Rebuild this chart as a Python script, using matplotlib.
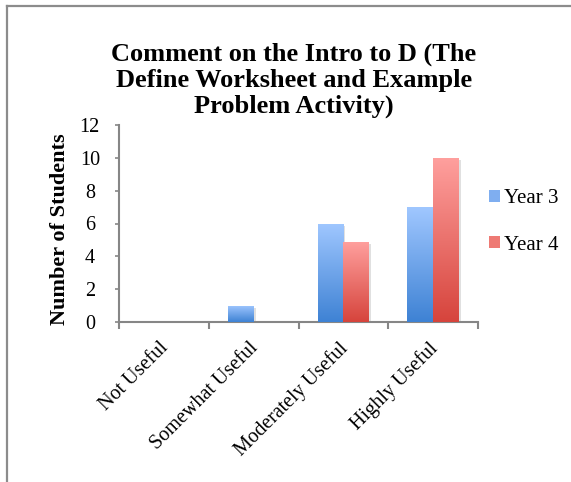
import numpy as np
import matplotlib
matplotlib.use("Agg")
import matplotlib.pyplot as plt
from matplotlib.colors import LinearSegmentedColormap
from matplotlib.patches import Rectangle
from matplotlib.lines import Line2D
from matplotlib.transforms import ScaledTranslation
import matplotlib.patheffects as pe

categories = ["Not Useful", "Somewhat Useful", "Moderately Useful", "Highly Useful"]
year3 = [0, 1, 6, 7]
year4 = [0, 0, 4.9, 10]
series_names = ["Year 3", "Year 4"]
title_lines = ["Comment on the Intro to D (The", "Define Worksheet and Example", "Problem Activity)"]
ylabel = "Number of Students"
yticks = [0, 2, 4, 6, 8, 10, 12]

plt.rcParams['font.family'] = ['Liberation Serif', 'DejaVu Serif']

W, H = 571, 482
fig = plt.figure(figsize=(W / 100, H / 100), dpi=100)
ax = fig.add_axes([119 / W, 1 - 322 / H, (478 - 119) / W, (322 - 125) / H])

grey = "#868686"
blue_top, blue_bot = "#A0C7FF", "#3E82D4"
red_top, red_bot = "#FFA09E", "#D6443C"

x = np.arange(len(categories))
bw = 0.286

def grad_bars(xpos, vals, top, bot):
    bars = ax.bar(xpos, vals, width=bw, color="white", linewidth=0, zorder=2)
    cmap = LinearSegmentedColormap.from_list("g", [bot, top])
    grad = np.linspace(0, 1, 256).reshape(-1, 1)
    for b in bars:
        h = b.get_height()
        if h <= 0:
            b.set_visible(False)
            continue
        b.set_path_effects([pe.SimplePatchShadow(offset=(1.5, -1.5), shadow_rgbFace="#000000", alpha=0.12), pe.Normal()])
        bx, by = b.get_x(), b.get_y()
        im = ax.imshow(grad, extent=(bx, bx + b.get_width(), by, by + h), origin="lower",
                       cmap=cmap, aspect="auto", zorder=3, interpolation="bilinear")
        im.set_clip_path(b)
    return bars

grad_bars(x - bw / 2, year3, blue_top, blue_bot)
grad_bars(x + bw / 2, year4, red_top, red_bot)

ax.set_xlim(-0.5, len(categories) - 0.5)
ax.set_ylim(0, 12)
ax.set_yticks(yticks)
ax.set_yticklabels([str(t) for t in yticks], ha="center")
ax.tick_params(axis="y", direction="out", length=3, width=1.2, color=grey, pad=18, labelsize=14.5)

ax.set_xticks(x)
ax.set_xticklabels(categories, rotation=45, ha="right", rotation_mode="anchor", fontsize=14.5)
ax.tick_params(axis="x", which="major", length=0, pad=12)
shift = ScaledTranslation(-5 / 100, 0, fig.dpi_scale_trans)
for lab in ax.get_xticklabels():
    lab.set_transform(lab.get_transform() + shift)
ax.set_xticks(np.arange(-0.5, len(categories), 1.0), minor=True)
ax.tick_params(axis="x", which="minor", direction="out", length=5, width=1.5, color=grey)

for s in ["top", "right"]:
    ax.spines[s].set_visible(False)
for s in ["left", "bottom"]:
    ax.spines[s].set_color(grey)
    ax.spines[s].set_linewidth(1.5)

ax.set_ylabel(ylabel, fontsize=16, fontweight="bold")
ax.yaxis.set_label_coords(-0.137, 0.47)

# Title
for i, line in enumerate(title_lines):
    fig.text(294 / W, 1 - (61 + 26 * i) / H, line, ha="center", va="baseline",
             fontsize=19, fontweight="bold")

# Legend
handles = [Rectangle((0, 0), 1, 1, facecolor=c, edgecolor="none") for c in ["#7FAEF0", "#EE7A74"]]
fig.legend(handles, series_names, loc="center left", bbox_to_anchor=(489 / W, 1 - 222 / H),
           frameon=False, fontsize=15, handlelength=0.55, handleheight=0.55,
           handletextpad=0.15, labelspacing=1.3, borderpad=0, borderaxespad=0)

# chart border (left and top visible)
fig.add_artist(Line2D([7 / W, 7 / W], [0, 1 - 5.5 / H], transform=fig.transFigure, color="#8C8C8C", lw=1.6))
fig.add_artist(Line2D([7 / W, 1], [1 - 5.5 / H, 1 - 5.5 / H], transform=fig.transFigure, color="#8C8C8C", lw=1.6))

fig.savefig("out.png", dpi=100)
